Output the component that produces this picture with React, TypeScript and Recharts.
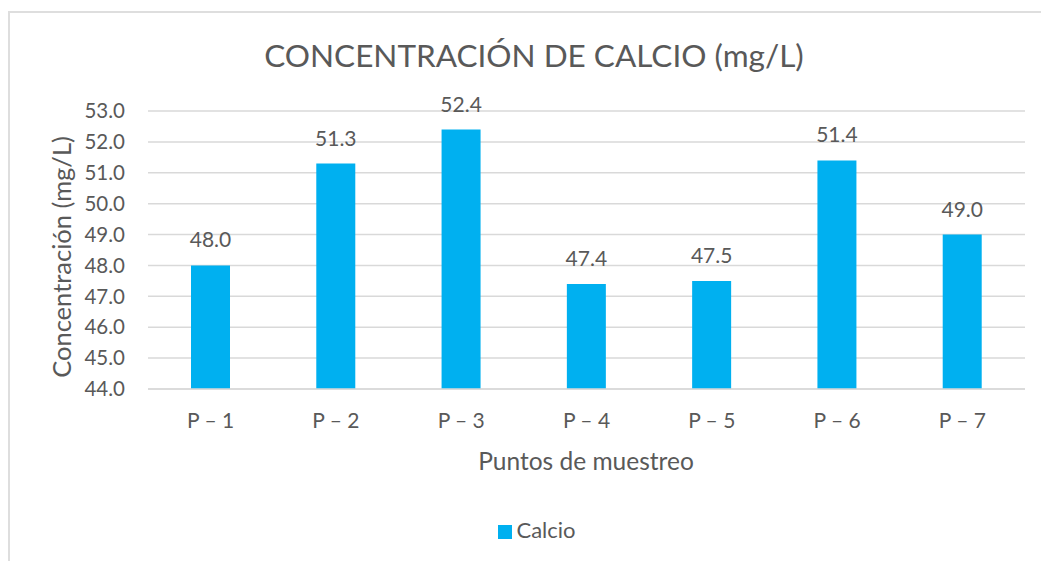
import { BarChart, Bar, XAxis, YAxis, CartesianGrid, Legend, LabelList } from 'recharts'

const puntos = ['P – 1', 'P – 2', 'P – 3', 'P – 4', 'P – 5', 'P – 6', 'P – 7']
const calcio = [48.0, 51.3, 52.4, 47.4, 47.5, 51.4, 49.0]
const yTicks = [44, 45, 46, 47, 48, 49, 50, 51, 52, 53]

const data = puntos.map((p, i) => ({ punto: p, calcio: calcio[i] }))

const FONT = 'Lato, "Open Sans", sans-serif'
const GREY = '#595959'

export default function App() {
  return (
    <div style={{ position: 'relative', width: 1041, height: 561, overflow: 'hidden', fontFamily: FONT }}>
      <style>{`body{margin:0;overflow:hidden}`}</style>
      <div
        style={{
          position: 'absolute',
          left: 8,
          top: 11,
          width: 1100,
          height: 600,
          border: '2px solid #dedede',
        }}
      />
      <div
        style={{
          position: 'absolute',
          left: 0,
          width: 1068,
          top: 35,
          textAlign: 'center',
          fontSize: 31.5,
          color: GREY,
          lineHeight: '40px',
        }}
      >
        CONCENTRACIÓN DE CALCIO (mg/L)
      </div>
      <div style={{ position: 'absolute', left: 0, top: 0 }}>
        <BarChart
          width={1072}
          height={561}
          data={data}
          margin={{ top: 111, right: 47, bottom: 116, left: 0 }}
          style={{ fontFamily: FONT }}
        >
          <CartesianGrid vertical={false} stroke="#d9d9d9" strokeWidth={1.5} />
          <XAxis
            dataKey="punto"
            height={30}
            interval={0}
            axisLine={{ stroke: '#d9d9d9', strokeWidth: 1.5 }}
            tickLine={false}
            tickMargin={18}
            tick={{ fill: GREY, fontSize: 21 }}
            label={{
              content: () => (
                <text x={586} y={470} textAnchor="middle" fill={GREY} fontSize={24.5}>
                  Puntos de muestreo
                </text>
              ),
            }}
          />
          <YAxis
            width={148}
            domain={[44, 53]}
            ticks={yTicks}
            interval={0}
            axisLine={false}
            tickLine={false}
            tickMargin={17}
            tick={{ fill: GREY, fontSize: 20.5 }}
            tickFormatter={(v: number) => v.toFixed(1)}
            label={{
              content: () => (
                <text
                  x={71}
                  y={257}
                  transform="rotate(-90 71 257)"
                  textAnchor="middle"
                  fill={GREY}
                  fontSize={25.5}
                >
                  Concentración (mg/L)
                </text>
              ),
            }}
          />
          <Legend
            verticalAlign="bottom"
            iconType="square"
            iconSize={14}
            wrapperStyle={{ top: 517, left: 6, width: 1072, fontSize: 22, lineHeight: '26px' }}
            formatter={(value) => <span style={{ color: GREY }}>{value}</span>}
          />
          <Bar dataKey="calcio" name="Calcio" fill="#00B0F0" barSize={39} isAnimationActive={false}>
            <LabelList
              dataKey="calcio"
              position="top"
              offset={18}
              fill={GREY}
              fontSize={21}
              formatter={(v: any) => Number(v).toFixed(1)}
            />
          </Bar>
        </BarChart>
      </div>
    </div>
  )
}
